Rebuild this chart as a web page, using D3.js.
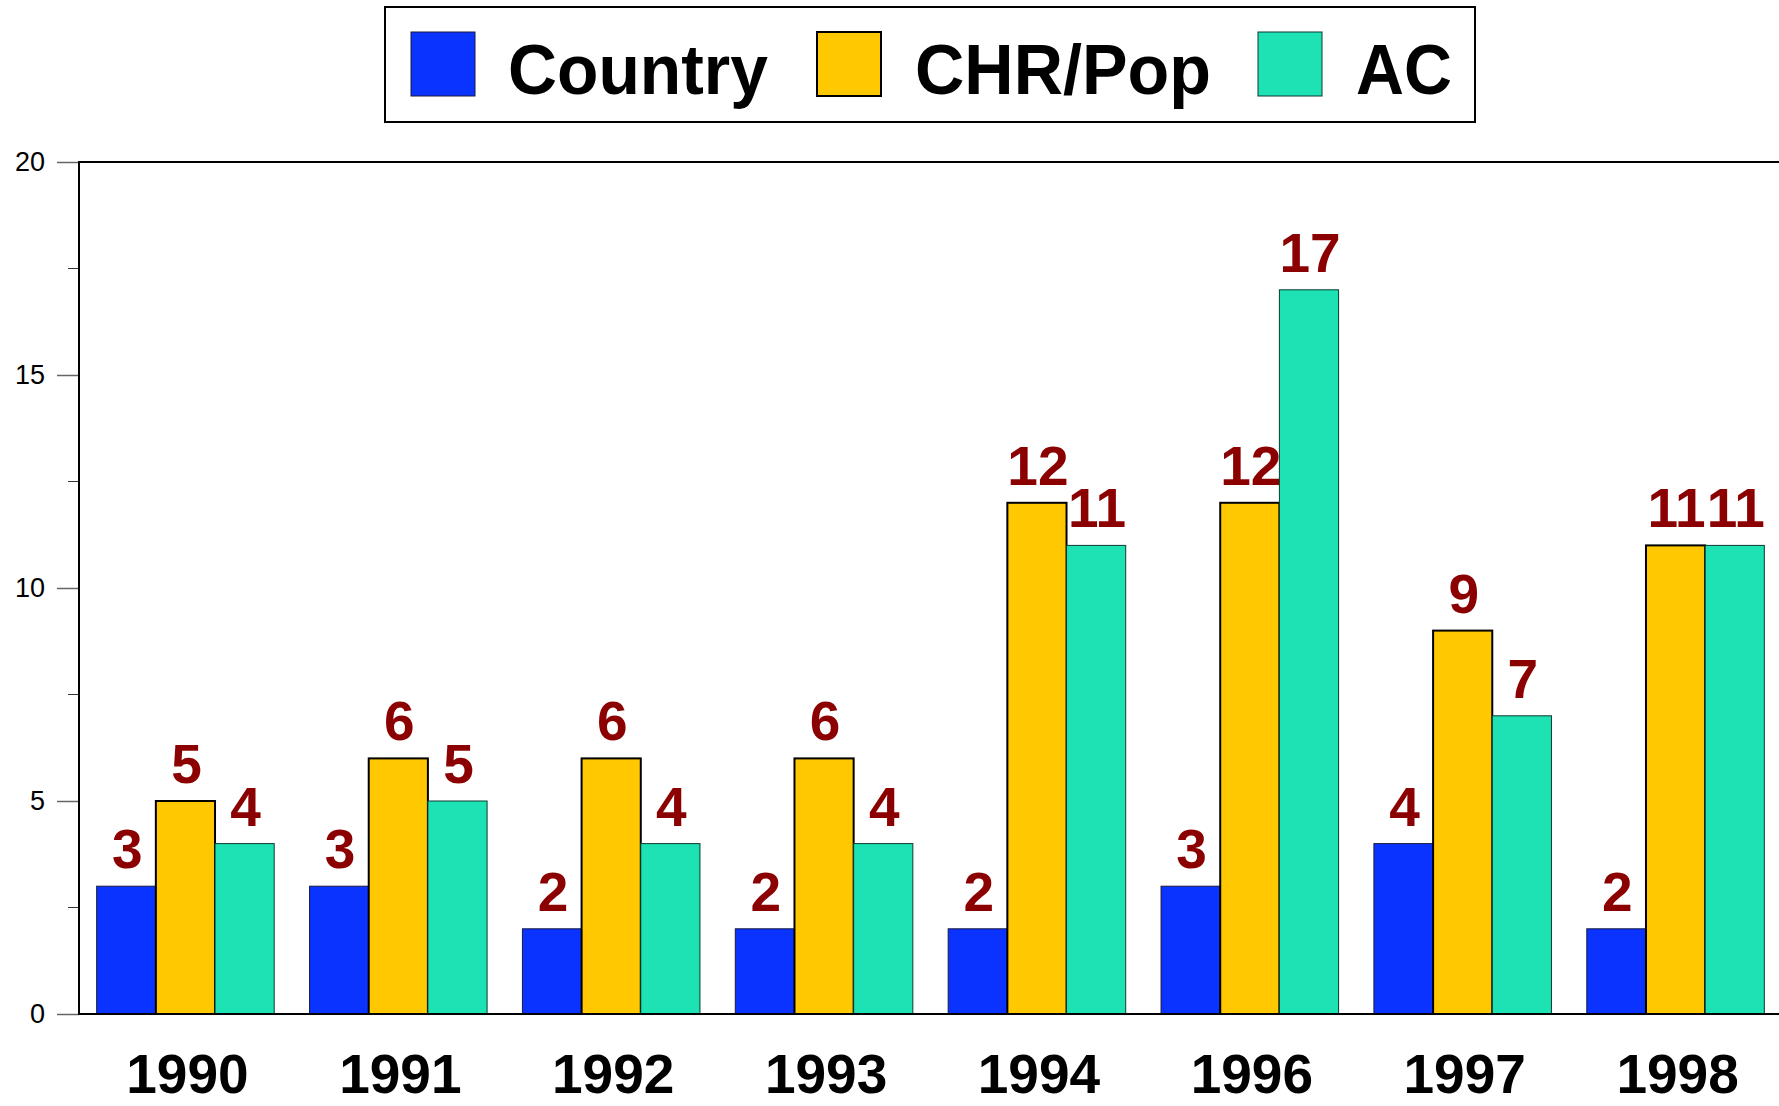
<!DOCTYPE html>
<html>
<head>
<meta charset="utf-8">
<script src="https://cdn.jsdelivr.net/npm/d3@7"></script>
<style>
  body { margin: 0; background: #fff; }
  svg { display: block; font-family: "Liberation Sans", Arial, sans-serif; }
</style>
</head>
<body>
<script>
var years = ["1990","1991","1992","1993","1994","1996","1997","1998"];
var seriesNames = ["Country","CHR/Pop","AC"];
var country = [3,3,2,2,2,3,4,2];
var chrPop = [5,6,6,6,12,12,9,11];
var ac = [4,5,4,4,11,17,7,11];
var yTicks = [0,5,10,15,20];

var colors = ["#0b33ff","#ffc800","#1de2b4"];
var strokes = ["#1a1a40","#000","#0d3a30"];
var strokeW = [1,2,1];

var W = 1779, H = 1106;
var x0 = 79, x1 = 1782, yTop = 162, yBot = 1014;

var svg = d3.select("body").append("svg")
    .attr("width", W)
    .attr("height", H);

var xScale = d3.scaleBand()
    .domain(years)
    .range([x0, x1])
    .paddingInner(0.166)
    .paddingOuter(0.083);

var xSub = d3.scaleBand()
    .domain(d3.range(3))
    .range([0, xScale.bandwidth()]);

var yScale = d3.scaleLinear()
    .domain([0, 20])
    .range([yBot, yTop]);

// minor ticks every 2.5
var minor = d3.range(2.5, 20, 5);
svg.append("g").selectAll("line")
    .data(minor).enter().append("line")
    .attr("x1", x0 - 11).attr("x2", x0)
    .attr("y1", function(d){ return yScale(d); })
    .attr("y2", function(d){ return yScale(d); })
    .attr("stroke", "#333").attr("stroke-width", 1);

var yAxis = d3.axisLeft(yScale).tickValues(yTicks).tickSize(22).tickPadding(12);
var yg = svg.append("g")
    .attr("transform", "translate(" + x0 + ",0)")
    .call(yAxis);
yg.select(".domain").remove();
yg.selectAll(".tick line").attr("stroke", "#666").attr("stroke-width", 1.5);
yg.selectAll(".tick text")
    .attr("font-size", 27)
    .attr("font-family", "Liberation Sans, Arial, sans-serif")
    .attr("fill", "#000");

var all = [country, chrPop, ac];

// bars and labels series by series
all.forEach(function(vals, s) {
  var g = svg.append("g");
  g.selectAll("rect")
    .data(vals).enter().append("rect")
    .attr("x", function(d, i){ return xScale(years[i]) + xSub(s); })
    .attr("y", function(d){ return yScale(d); })
    .attr("width", xSub.bandwidth())
    .attr("height", function(d){ return yBot - yScale(d); })
    .attr("fill", colors[s])
    .attr("stroke", strokes[s])
    .attr("stroke-width", strokeW[s]);
  g.selectAll("text")
    .data(vals).enter().append("text")
    .attr("x", function(d, i){ return xScale(years[i]) + xSub(s) + xSub.bandwidth() / 2 + 1; })
    .attr("y", function(d){ return yScale(d) - 18; })
    .attr("text-anchor", "middle")
    .attr("font-size", 55)
    .attr("font-weight", "bold")
    .attr("fill", "#8b0000")
    .text(function(d){ return d; });
});

// frame lines
svg.append("line")
    .attr("x1", x0).attr("x2", W).attr("y1", yTop).attr("y2", yTop)
    .attr("stroke", "#000").attr("stroke-width", 2);
svg.append("line")
    .attr("x1", x0).attr("x2", W).attr("y1", yBot).attr("y2", yBot)
    .attr("stroke", "#000").attr("stroke-width", 2);
svg.append("line")
    .attr("x1", x0).attr("x2", x0).attr("y1", yTop - 1).attr("y2", yBot + 1)
    .attr("stroke", "#000").attr("stroke-width", 2);

// year labels
svg.append("g").selectAll("text")
    .data(years).enter().append("text")
    .attr("x", function(d){ return xScale(d) + xScale.bandwidth() / 2 + 2; })
    .attr("y", 1093)
    .attr("text-anchor", "middle")
    .attr("font-size", 55)
    .attr("font-weight", "bold")
    .attr("fill", "#000")
    .text(function(d){ return d; });

// legend
var leg = svg.append("g");
leg.append("rect")
    .attr("x", 385).attr("y", 7)
    .attr("width", 1090).attr("height", 115)
    .attr("fill", "#fff").attr("stroke", "#000").attr("stroke-width", 2);

var swX = [411, 817, 1258];
var txX = [508, 915, 1356];
var txW = [260, 296, 96];
seriesNames.forEach(function(n, i) {
  leg.append("rect")
    .attr("x", swX[i]).attr("y", 32)
    .attr("width", 64).attr("height", 64)
    .attr("fill", colors[i])
    .attr("stroke", strokes[i])
    .attr("stroke-width", strokeW[i]);
  leg.append("text")
    .attr("x", txX[i]).attr("y", 94)
    .attr("font-size", 71)
    .attr("font-weight", "bold")
    .attr("textLength", txW[i])
    .attr("lengthAdjust", "spacingAndGlyphs")
    .attr("fill", "#000")
    .text(n);
});
</script>
</body>
</html>
